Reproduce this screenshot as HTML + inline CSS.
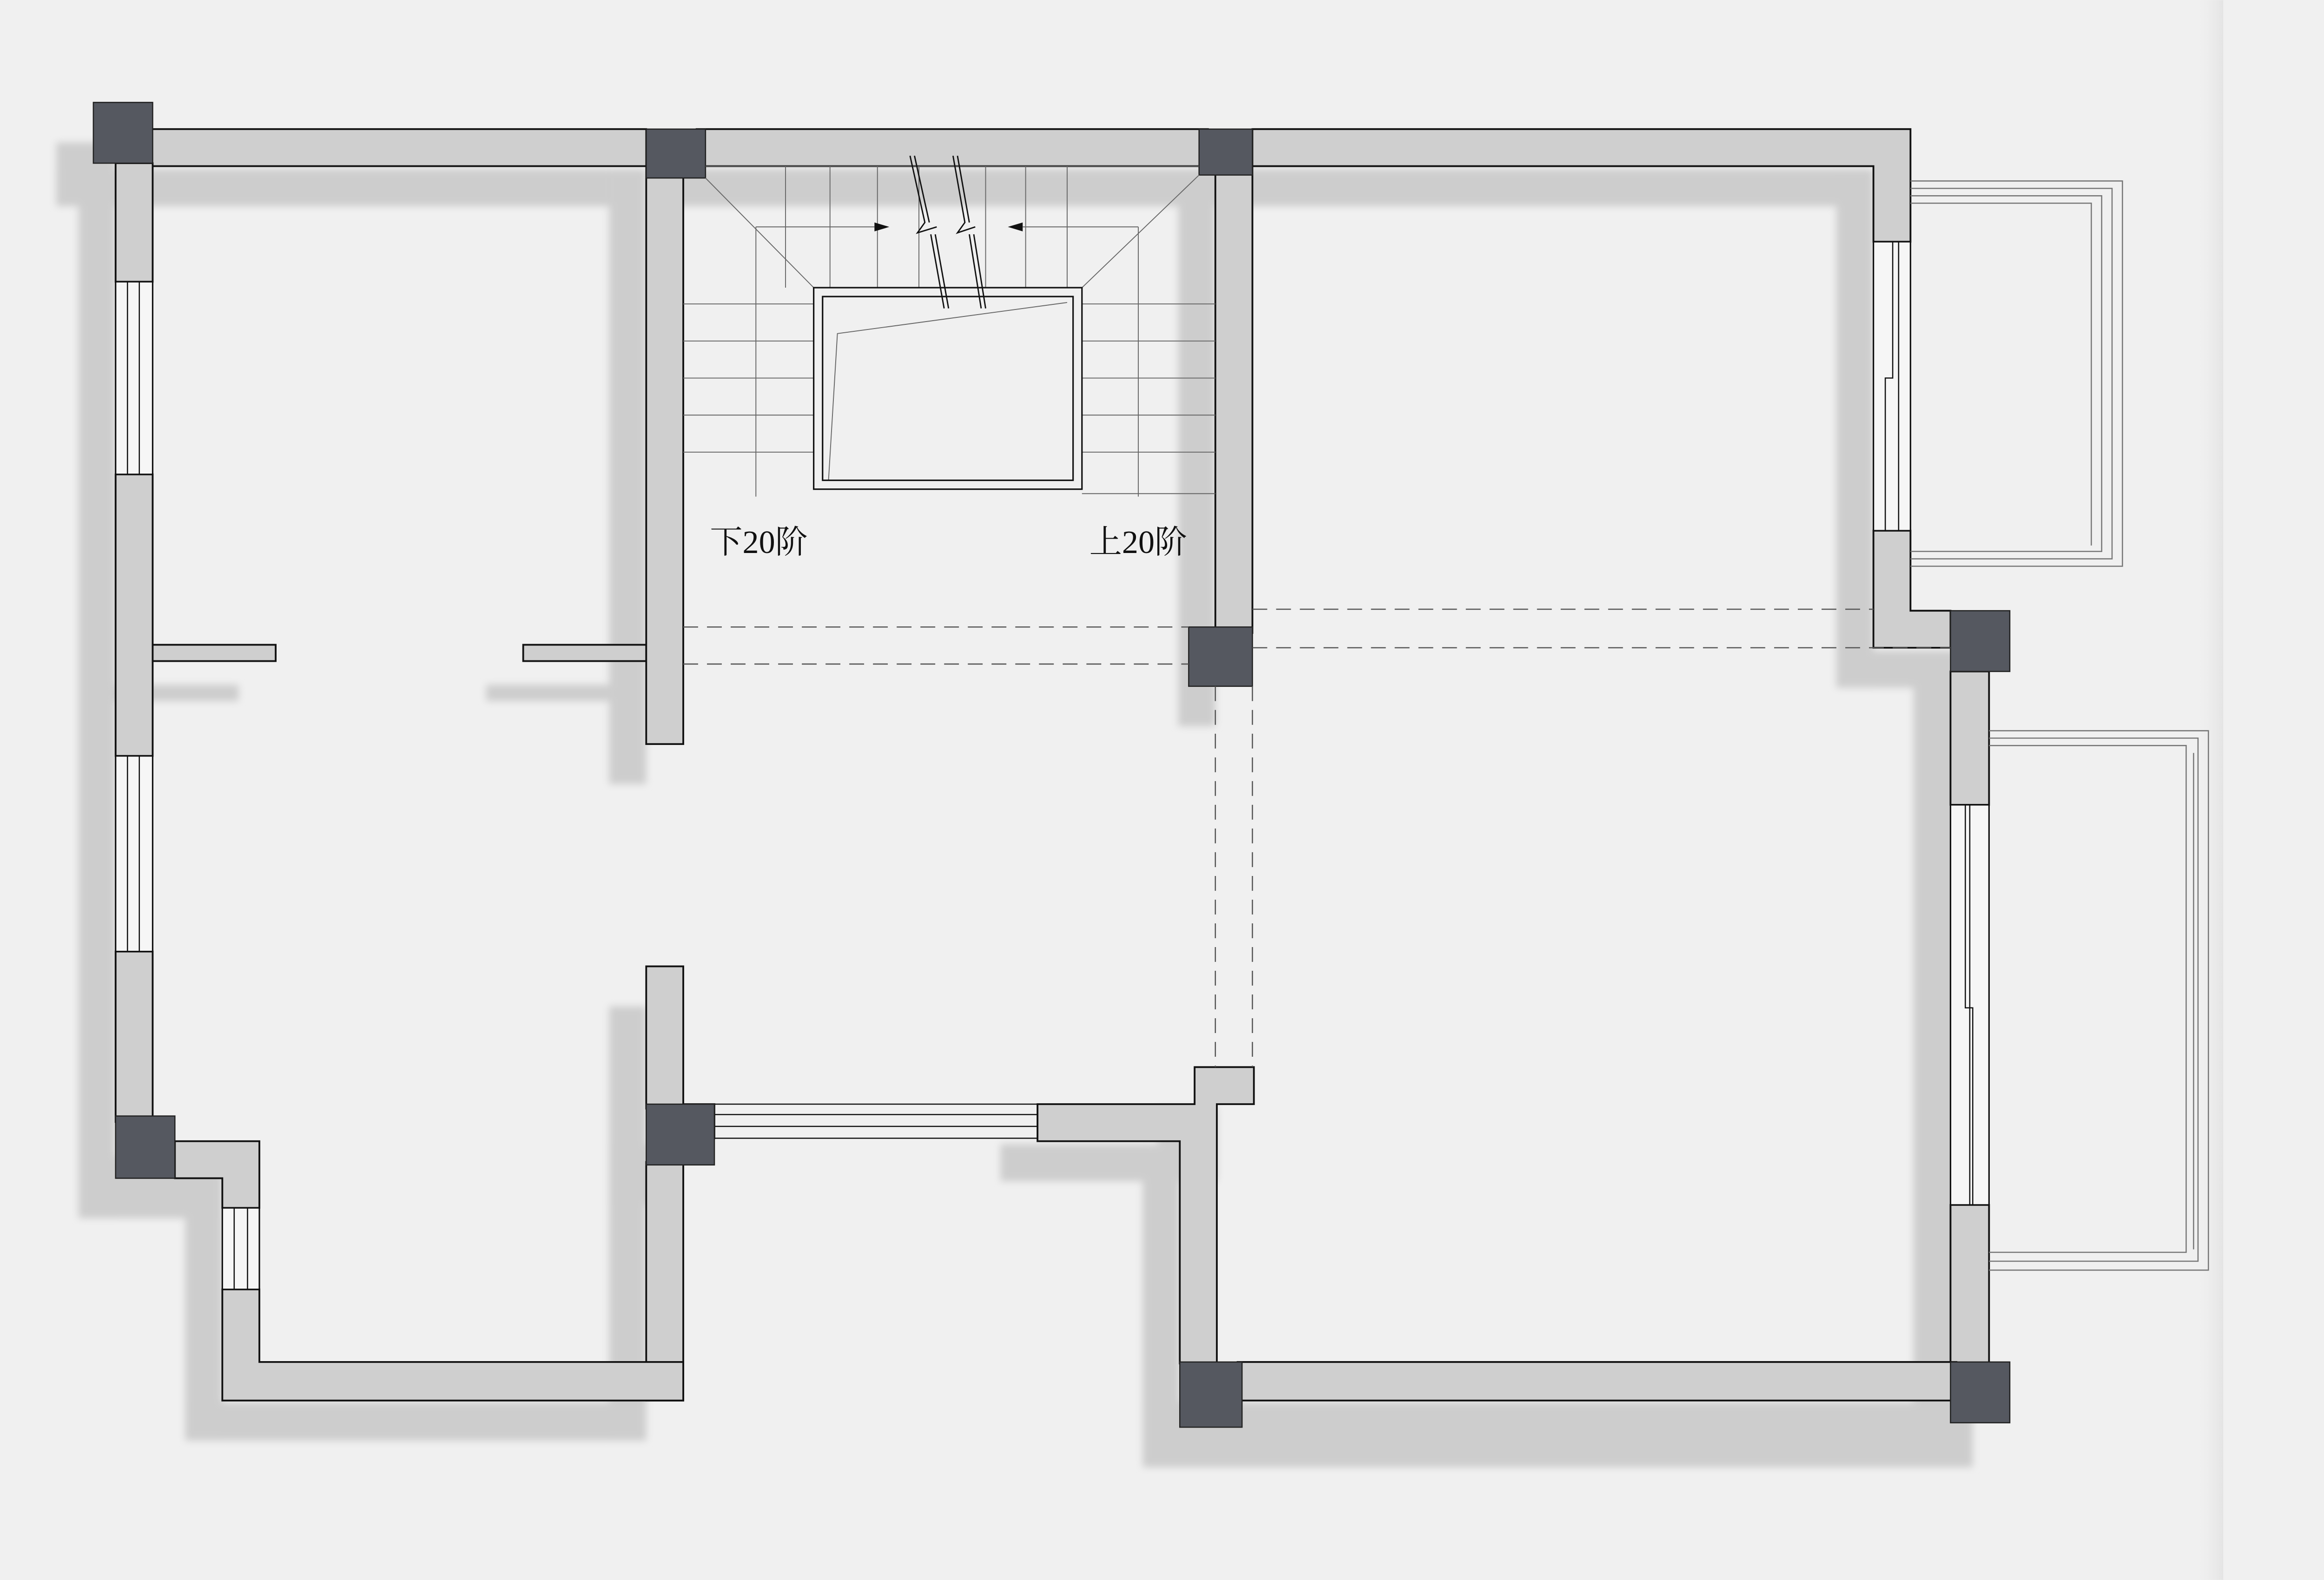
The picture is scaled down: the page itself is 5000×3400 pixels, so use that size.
<!DOCTYPE html>
<html><head><meta charset="utf-8"><style>
html,body{margin:0;padding:0;background:#f0f0f0;}
svg{display:block;}
</style></head><body>
<svg width="5000" height="3400" viewBox="0 0 1568 1066" xmlns="http://www.w3.org/2000/svg">
<defs>
<filter id="blur" x="-10%" y="-10%" width="120%" height="120%"><feGaussianBlur stdDeviation="2.5"/></filter>
<linearGradient id="edge" x1="0" x2="1">
<stop offset="0" stop-color="#f0f0f0" stop-opacity="0"/>
<stop offset="1" stop-color="#dcdcdc"/>
</linearGradient>
</defs>
<rect width="1568" height="1066" fill="#f0f0f0"/>
<rect x="1480" y="0" width="20" height="1066" fill="url(#edge)" opacity="0.6"/>

<!-- shadows -->
<g fill="#cdcdcd" filter="url(#blur)" transform="translate(-25,27)">
<rect x="63" y="87" width="373" height="25"/>
<rect x="63" y="69" width="40" height="41"/>
<rect x="78" y="110" width="25" height="685"/>
<rect x="103" y="435" width="83" height="11"/>
<rect x="353" y="435" width="83" height="11"/>
<rect x="436" y="87" width="25" height="415"/>
<rect x="476" y="87" width="370" height="25"/>
<rect x="820" y="110" width="25" height="353"/>
<rect x="845" y="87" width="444" height="25"/>
<rect x="1264" y="87" width="25" height="350"/>
<rect x="1264" y="412" width="92" height="25"/>
<rect x="1316" y="412" width="40" height="548"/>
<rect x="796" y="919" width="560" height="44"/>
<rect x="700" y="745" width="121" height="25"/>
<rect x="806" y="720" width="40" height="50"/>
<rect x="796" y="745" width="25" height="200"/>
<rect x="436" y="652" width="25" height="293"/>
<rect x="436" y="745" width="46" height="41"/>
<rect x="150" y="919" width="311" height="26"/>
<rect x="150" y="770" width="25" height="175"/>
<rect x="78" y="753" width="97" height="42"/>
</g>

<!-- walls -->
<g fill="#cfcfcf" stroke="#111" stroke-width="1.2">
<rect x="80" y="87" width="356" height="25"/>
<rect x="78" y="110" width="25" height="80"/>
<rect x="78" y="320" width="25" height="190"/>
<rect x="78" y="642" width="25" height="115"/>
<rect x="103" y="435" width="83" height="11"/>
<rect x="353" y="435" width="83" height="11"/>
<rect x="436" y="112" width="25" height="390"/>
<rect x="470" y="87" width="345" height="25"/>
<path d="M845 87 H1289 V163 H1264 V112 H845 Z"/>
<path d="M1264 358 H1289 V412 H1316 V437 H1264 Z"/>
<rect x="1316" y="453" width="26" height="90"/>
<rect x="1316" y="813" width="26" height="110"/>
<rect x="820" y="112" width="25" height="315"/>
<rect x="835" y="919" width="485" height="26"/>
<path d="M806 720 H846 V745 H821 V920 H796 V770 H700 V745 H806 Z"/>
<rect x="436" y="652" width="25" height="96"/>
<rect x="436" y="784" width="25" height="161"/>
<rect x="461" y="745" width="21" height="23"/>
<path d="M150 870 H175 V919 H461 V945 H150 Z"/>
<path d="M118 770 H175 V815 H150 V795 H118 Z"/>
</g>

<!-- windows -->
<g fill="#f6f6f6" stroke="#111" stroke-width="1">
<rect x="78" y="190" width="25" height="130"/>
<rect x="78" y="510" width="25" height="132"/>
<rect x="150" y="815" width="25" height="55"/>
<rect x="1264" y="163" width="25" height="195"/>
<rect x="1316" y="543" width="26" height="270"/>
</g>
<g stroke="#111" stroke-width="0.8" fill="none">
<line x1="86" y1="190" x2="86" y2="320"/><line x1="94" y1="190" x2="94" y2="320"/>
<line x1="86" y1="510" x2="86" y2="642"/><line x1="94" y1="510" x2="94" y2="642"/>
<line x1="158" y1="815" x2="158" y2="870"/><line x1="167" y1="815" x2="167" y2="870"/>
<polyline points="1277,163 1277,255 1272,255 1272,358"/><polyline points="1281,163 1281,255 1281,358"/>
<polyline points="1326,543 1326,680 1331,680 1331,813"/><polyline points="1329,543 1329,813"/>
<line x1="482" y1="752" x2="700" y2="752"/><line x1="482" y1="760" x2="700" y2="760"/>
<line x1="482" y1="745" x2="700" y2="745"/><line x1="482" y1="768" x2="700" y2="768"/>
</g>

<!-- columns -->
<g fill="#555860" stroke="#222" stroke-width="0.8">
<rect x="63" y="69" width="40" height="41"/>
<rect x="436" y="87" width="40" height="33"/>
<rect x="809" y="87" width="36" height="31"/>
<rect x="802" y="423" width="43" height="40"/>
<rect x="1316" y="412" width="40" height="41"/>
<rect x="1316" y="919" width="40" height="41"/>
<rect x="796" y="919" width="42" height="44"/>
<rect x="436" y="745" width="46" height="41"/>
<rect x="78" y="753" width="40" height="42"/>
</g>

<!-- balconies -->
<g fill="none" stroke="#777" stroke-width="0.8">
<path d="M1289 122 H1432 V382 H1289"/>
<path d="M1289 127 H1425 V377 H1289"/>
<path d="M1289 132 H1418 V372 H1289"/>
<path d="M1289 137 H1411 V368"/>
<path d="M1342 493 H1490 V857 H1342"/>
<path d="M1342 498 H1483 V851 H1342"/>
<path d="M1342 503 H1475 V845 H1342"/>
<path d="M1480 508 V843"/>
</g>

<!-- dashed -->
<g stroke="#555" stroke-width="0.8" stroke-dasharray="10,6" fill="none">
<line x1="461" y1="423" x2="802" y2="423"/>
<line x1="461" y1="448" x2="802" y2="448"/>
<line x1="845" y1="411" x2="1264" y2="411"/>
<line x1="845" y1="437" x2="1316" y2="437"/>
<line x1="820" y1="463" x2="820" y2="720"/>
<line x1="845" y1="463" x2="845" y2="720"/>
</g>

<!-- stairs -->
<g stroke="#666" stroke-width="0.6" fill="none">
<line x1="476" y1="112" x2="809" y2="112"/>
<line x1="530" y1="112" x2="530" y2="194"/><line x1="560" y1="112" x2="560" y2="194"/>
<line x1="592" y1="112" x2="592" y2="194"/><line x1="620" y1="112" x2="620" y2="194"/>
<line x1="665" y1="112" x2="665" y2="194"/><line x1="692" y1="112" x2="692" y2="194"/>
<line x1="720" y1="112" x2="720" y2="194"/>
<line x1="476" y1="120" x2="549" y2="194"/>
<line x1="809" y1="118" x2="730" y2="194"/>
<line x1="461" y1="205" x2="549" y2="205"/><line x1="730" y1="205" x2="820" y2="205"/>
<line x1="461" y1="230" x2="549" y2="230"/><line x1="730" y1="230" x2="820" y2="230"/>
<line x1="461" y1="255" x2="549" y2="255"/><line x1="730" y1="255" x2="820" y2="255"/>
<line x1="461" y1="280" x2="549" y2="280"/><line x1="730" y1="280" x2="820" y2="280"/>
<line x1="461" y1="305" x2="549" y2="305"/><line x1="730" y1="305" x2="820" y2="305"/>
<line x1="510" y1="153" x2="510" y2="335"/>
<line x1="768" y1="153" x2="768" y2="335"/>
<line x1="510" y1="153" x2="590" y2="153"/>
<line x1="690" y1="153" x2="768" y2="153"/>
<polyline points="559,324 565,225 720,204"/>
<polyline points="730,333 820,333"/>
</g>
<polygon points="600,153 590,150 590,156" fill="#111"/>
<polygon points="680,153 690,150 690,156" fill="#111"/>
<rect x="549" y="194" width="181" height="136" fill="none" stroke="#111" stroke-width="1"/>
<rect x="555" y="200" width="169" height="124" fill="none" stroke="#111" stroke-width="1"/>
<g stroke="#111" stroke-width="0.9" fill="none">
<polyline points="614,105 624,150 619,157 632,153"/>
<polyline points="617,105 627,150"/>
<polyline points="628,158 637,208"/>
<polyline points="631,158 640,208"/>
<polyline points="643,105 651,150 646,157 658,153"/>
<polyline points="646,105 654,150"/>
<polyline points="654,158 662,208"/>
<polyline points="657,158 665,208"/>
</g>
<g font-family="'Liberation Serif','Noto Serif CJK SC',serif" font-size="22" fill="#111">
<text x="479" y="373">下20阶</text>
<text x="735" y="373">上20阶</text>
</g>
</svg>
</body></html>
